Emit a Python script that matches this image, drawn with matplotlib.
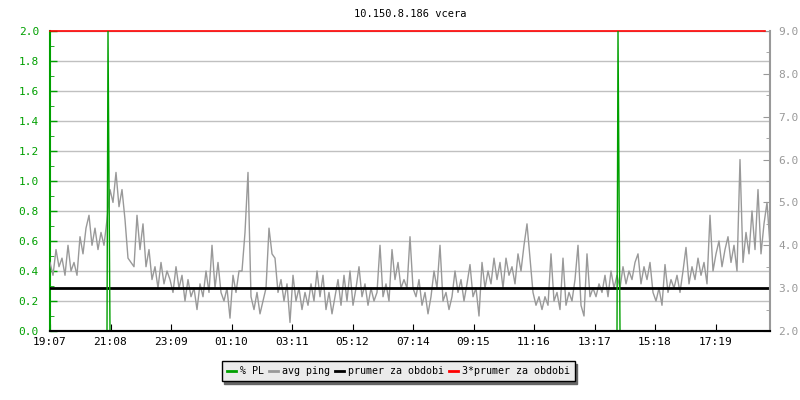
import numpy as np
import matplotlib.pyplot as plt
from matplotlib.lines import Line2D

plt.rcParams['font.family'] = ['DejaVu Sans Mono']
plt.rcParams['font.size'] = 7

title = '10.150.8.186 vcera'

# casove znacky na ose x (minuty od 19:07)
tick_labels = ['19:07', '21:08', '23:09', '01:10', '03:11', '05:12',
               '07:14', '09:15', '11:16', '13:17', '15:18', '17:19']
tick_step = 121

# avg ping [ms], vzorek kazdych 6 minut
sample_step = 6
ping = [3.6, 3.3, 3.9, 3.5, 3.7, 3.3, 4.0, 3.4, 3.6, 3.3,
        4.2, 3.8, 4.4, 4.7, 4.0, 4.4, 3.9, 4.3, 4.0, 4.6,
        5.3, 5.0, 5.7, 4.9, 5.3, 4.6, 3.7, 3.6, 3.5, 4.7,
        3.9, 4.5, 3.5, 3.9, 3.2, 3.5, 3.0, 3.6, 3.1, 3.4,
        3.2, 2.9, 3.5, 3.0, 3.3, 2.7, 3.2, 2.8, 3.0, 2.5,
        3.1, 2.8, 3.4, 2.9, 4.0, 3.0, 3.6, 2.9, 2.7, 3.0,
        2.3, 3.3, 2.9, 3.4, 3.4, 4.3, 5.7, 2.8, 2.5, 2.9,
        2.4, 2.7, 3.0, 4.4, 3.8, 3.7, 2.9, 3.2, 2.7, 3.1,
        2.2, 3.3, 2.7, 3.0, 2.5, 2.9, 2.6, 3.1, 2.7, 3.4,
        2.8, 3.3, 2.5, 2.9, 2.4, 2.8, 3.2, 2.6, 3.3, 2.7,
        3.4, 2.6, 3.0, 3.5, 2.8, 3.1, 2.6, 3.0, 2.7, 2.9,
        4.0, 2.8, 3.1, 2.7, 3.9, 3.2, 3.6, 3.0, 3.2, 3.0,
        4.2, 3.0, 2.8, 3.2, 2.6, 2.9, 2.4, 2.8, 3.4, 3.0,
        4.0, 2.7, 2.9, 2.5, 2.8, 3.4, 2.9, 3.2, 2.7, 3.1,
        3.55, 2.8, 3.0, 2.35, 3.6, 3.0, 3.4, 3.1, 3.7, 3.2,
        3.6, 3.0, 3.7, 3.3, 3.5, 3.1, 3.8, 3.4, 4.0, 4.5,
        3.7, 2.9, 2.6, 2.8, 2.5, 2.8, 2.6, 3.8, 2.7, 2.9,
        2.5, 3.7, 2.6, 2.9, 2.7, 3.2, 4.0, 2.6, 2.35, 3.8,
        2.8, 3.0, 2.8, 3.1, 2.9, 3.3, 2.8, 3.4, 3.0, 3.3,
        3.0, 3.5, 3.1, 3.4, 3.2, 3.6, 3.8, 3.1, 3.5, 3.2,
        3.6, 2.9, 2.7, 3.0, 2.6, 3.55, 2.9, 3.2, 3.0, 3.3,
        2.9, 3.4, 3.95, 3.1, 3.5, 3.2, 3.7, 3.3, 3.6, 3.1,
        4.7, 3.4, 3.8, 4.1, 3.5, 3.9, 4.2, 3.6, 4.0, 3.4,
        6.0, 3.6, 4.3, 3.8, 4.8, 3.9, 5.3, 3.8, 4.5, 5.0, 4.0]

# % PL (packet loss)
pl_minutes = [0, 114, 116, 118, 120, 1134, 1136, 1138, 1140, 1440]
pl_values = [0, 0, 2.0, 1.0, 0, 0, 2.0, 1.0, 0, 0]

prumer = 3.0  # prumer za obdobi [ms]

green = '#00a000'
gray = '#999999'

fig = plt.figure(figsize=(8, 4), dpi=100)
ax = fig.add_axes([0.0625, 0.1725, 0.9, 0.75])
ax2 = ax.twinx()

t = np.arange(len(ping)) * sample_step

ax2.plot(t, ping, color=gray, lw=1)
ax2.axhline(prumer, color='black', lw=2)
ax2.plot([0, 1430], [3 * prumer, 3 * prumer], color='red', lw=1.2, clip_on=False)
ax2.plot(pl_minutes, pl_values, color=green, lw=1, transform=ax.transData)

ax.set_xlim(0, 1440)
ax.set_ylim(0, 2.0)
ax2.set_ylim(2.0, 9.0)

ax.set_xticks(np.arange(len(tick_labels)) * tick_step)
ax.set_xticklabels(tick_labels)
ax.set_yticks(np.arange(0, 2.01, 0.2))
ax.set_yticks(np.arange(0.1, 2.0, 0.2), minor=True)
ax.yaxis.set_major_formatter(plt.FormatStrFormatter('%.1f'))
ax2.set_yticks(np.arange(2, 9.01, 1))
ax2.set_yticks(np.arange(2.5, 9, 1), minor=True)
ax2.yaxis.set_major_formatter(plt.FormatStrFormatter('%.1f'))

ax.yaxis.grid(True, color='#c0c0c0', lw=1)
ax.set_axisbelow(True)

ax.tick_params(axis='y', colors=green, direction='in', length=5, width=1, pad=8, labelsize=8)
ax.tick_params(axis='y', which='minor', colors=green, direction='in', length=3)
ax.tick_params(axis='x', colors='black', direction='in', length=5, pad=4, labelsize=8)
ax2.tick_params(axis='y', colors=gray, direction='in', length=5, pad=6, labelsize=8)
ax2.tick_params(axis='y', which='minor', colors=gray, direction='in', length=3)

ax.spines['top'].set_visible(False)
ax.spines['right'].set_visible(False)
ax2.spines['top'].set_visible(False)
ax2.spines['left'].set_visible(False)
ax.spines['left'].set_color(green)
ax.spines['left'].set_linewidth(1.5)
ax.spines['bottom'].set_color('black')
ax.spines['bottom'].set_linewidth(1.5)
# spodni osa i na ax2, aby prekryla nulovou hodnotu PL
ax2.spines['bottom'].set_color('black')
ax2.spines['bottom'].set_linewidth(1.5)
ax2.spines['right'].set_color(gray)
ax2.spines['right'].set_linewidth(1.5)

ax.set_title(title, fontsize=7.5, pad=10)

handles = [Line2D([], [], color=green, lw=2),
           Line2D([], [], color=gray, lw=2),
           Line2D([], [], color='black', lw=2),
           Line2D([], [], color='red', lw=2)]
labels = ['% PL', 'avg ping', 'prumer za obdobi', '3*prumer za obdobi']
fig.legend(handles, labels, loc='center', bbox_to_anchor=(0.4975, 0.0725), ncol=4,
           fontsize=7.2, handlelength=0.9, handletextpad=0.4, columnspacing=0.5,
           fancybox=False, shadow={'color': '#666666', 'alpha': 1},
           edgecolor='black', facecolor='#ebebeb', framealpha=1,
           borderpad=0.5)

fig.savefig('out.png', dpi=100)
